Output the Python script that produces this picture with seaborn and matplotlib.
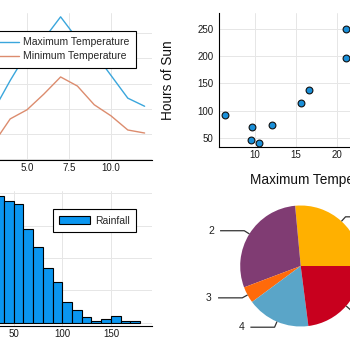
import numpy as np
import pandas as pd
import matplotlib
matplotlib.use("Agg")
import matplotlib.pyplot as plt
import seaborn as sns
from matplotlib.patches import Patch
from matplotlib.ticker import FormatStrFormatter

# data
months = list(range(1, 13))
max_temp = [6.3, 9.5, 9.6, 15.6, 21.1, 23.8, 28.2, 23.8, 21.1, 16.6, 12.1, 10.5]
min_temp = [1.5, 2.0, 3.1, 8.0, 9.8, 12.9, 16.3, 14.5, 10.8, 8.6, 5.8, 5.2]
sun_hours = [92, 46, 71, 114, 249, 262, 272, 240, 196, 137, 73, 40]

rain_edges = list(range(0, 190, 10))
rain_counts = [150, 178, 190, 196, 188, 183, 145, 117, 85, 63, 31, 19, 9, 2, 6, 10, 2, 2]

pie_labels = ["1", "2", "3", "4", "5"]
pie_values = [26.5, 29.3, 4.4, 16.9, 23.0]
pie_colors = ["#ffb000", "#803c73", "#ff6a0a", "#5aa5c8", "#c8001e"]

sns.set_style("white")
plt.rcParams['font.family'] = ['Liberation Sans', 'DejaVu Sans']

W = H = 350
fig = plt.figure(figsize=(3.5, 3.5), dpi=100)


def box(l, t, r, b):
    # pixel box -> figure fraction (the reference is a crop, so boxes may run off)
    return [l / W, 1 - b / H, (r - l) / W, (b - t) / H]


def style(ax):
    for s in ['top', 'right']:
        ax.spines[s].set_visible(False)
    for s in ['left', 'bottom']:
        ax.spines[s].set_color('black')
        ax.spines[s].set_linewidth(0.8)
    ax.grid(True, color='#e6e6e6', linewidth=0.7)
    ax.set_axisbelow(True)
    ax.tick_params(direction='in', length=3, width=0.6, labelsize=7,
                   colors='#1a1a1a')
    ax.tick_params(axis='x', pad=2.5)
    ax.tick_params(axis='y', pad=4.3)


leg_kw = dict(loc='upper right', bbox_transform=fig.transFigure, borderaxespad=0,
              fancybox=False, edgecolor='black', framealpha=1, fontsize=7.5,
              handlelength=3, handletextpad=0.45, borderpad=0.6, labelspacing=0.4)

# top left: temperatures
ax1 = fig.add_axes(box(-45, 13, 152, 160))
temps = pd.DataFrame({
    'Month': months * 2,
    'Temp': max_temp + min_temp,
    'Series': ['Maximum Temperature'] * 12 + ['Minimum Temperature'] * 12,
})
sns.lineplot(data=temps, x='Month', y='Temp', hue='Series',
             palette=['#3aa6dc', '#dc8c6e'], linewidth=1, ax=ax1)
style(ax1)
ax1.set_xlim(0.714, 12.44)
ax1.set_ylim(-0.14, 28.96)
ax1.set_xticks([2.5, 5, 7.5, 10])
ax1.xaxis.set_major_formatter(FormatStrFormatter('%.1f'))
ax1.set_yticks([0, 5, 10, 15, 20, 25])
ax1.set_xlabel('')
ax1.set_ylabel('')
h, l = ax1.get_legend_handles_labels()
lg = ax1.legend(h, l, bbox_to_anchor=(136 / W, 1 - 31 / H), **leg_kw)
lg.get_frame().set_linewidth(0.8)

# top right: sun vs max temperature
ax2 = fig.add_axes(box(219.3, 13, 421, 146.7))
sns.scatterplot(x=max_temp, y=sun_hours, s=24, color='#1a8fd8',
                edgecolor='#111111', linewidth=0.8, ax=ax2, zorder=3)
style(ax2)
ax2.set_xlim(5.63, 30.3)
ax2.set_ylim(34, 279)
ax2.set_xticks([10, 15, 20, 25])
ax2.set_yticks([50, 100, 150, 200, 250])
ax2.set_xlabel('Maximum Temperature', fontsize=9.8, color='#111111')
ax2.set_ylabel('Hours of Sun', fontsize=9.8, color='#111111')
ax2.xaxis.set_label_coords(0.5, -0.197)
ax2.yaxis.set_label_coords(-0.22, 0.5)

# bottom left: rainfall histogram
ax3 = fig.add_axes(box(-43, 191, 152, 326))
mids = [e + 5 for e in rain_edges[:-1]]
sns.histplot(x=mids, weights=rain_counts, bins=rain_edges, color='#0a96f0',
             edgecolor='black', linewidth=0.8, alpha=1, ax=ax3)
style(ax3)
ax3.set_xlim(-8.2, 192.2)
ax3.set_ylim(-5.4, 203.6)
ax3.set_xticks([0, 50, 100, 150])
ax3.set_yticks([0, 50, 100, 150, 200])
ax3.set_xlabel('')
ax3.set_ylabel('')
lg = ax3.legend(handles=[Patch(facecolor='#0a96f0', edgecolor='black', linewidth=0.8)],
                labels=['Rainfall'], bbox_to_anchor=(136 / W, 1 - 209.3 / H),
                handleheight=0.9, **leg_kw)
lg.get_frame().set_linewidth(0.8)

# bottom right: pie with leader lines
r_px, L = 60.5, 1.8
half = r_px * L
ax4 = fig.add_axes(box(300.7 - half, 266 - half, 300.7 + half, 266 + half))
ax4.set_facecolor('none')
wedges, _ = ax4.pie(pie_values, colors=pie_colors, startangle=0,
                    counterclock=True, radius=1, wedgeprops=dict(linewidth=0))
for w, lab in zip(wedges, pie_labels):
    ang = np.deg2rad((w.theta1 + w.theta2) / 2)
    x, y = np.cos(ang), np.sin(ang)
    kx, ky = 1.1 * x, 1.1 * y
    side = np.sign(x)
    ax4.plot([x, kx, kx + side * 0.4], [y, ky, ky], color='#333333', lw=0.9,
             solid_capstyle='butt')
    ax4.text(kx + side * 0.55, ky, lab, ha='center', va='center',
             fontsize=7.5, color='#222222')
ax4.set_xlim(-L, L)
ax4.set_ylim(-L, L)
ax4.axis('off')

fig.savefig('out.png', dpi=100)
